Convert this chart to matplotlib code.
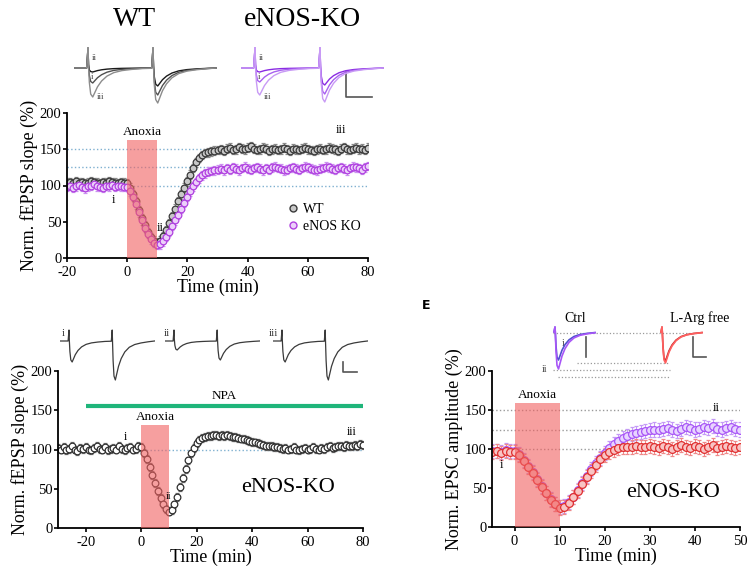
import numpy as np
import matplotlib
matplotlib.use('Agg')
import matplotlib.pyplot as plt
from matplotlib.patches import Rectangle
from matplotlib.lines import Line2D

plt.rcParams['font.family'] = ['Liberation Serif', 'DejaVu Serif']
plt.rcParams['axes.unicode_minus'] = False

# ---------------- data ----------------
# Panel A (top): WT vs eNOS KO, fEPSP slope, 1-min bins from -20 to 80 min
tA = np.arange(-20, 81)
wtA = [104, 105, 103, 106, 104, 105, 103, 104, 106, 105, 104, 103, 105, 104, 106, 105, 104, 103, 105, 104,
       103, 97, 88, 78, 66, 55, 45, 36, 29, 24, 21,
       24, 30, 38, 48, 58, 68, 78, 88, 97, 106,
       115, 124, 132, 138, 142, 145, 146, 147, 148, 149,
       150, 148, 151, 152, 149, 150, 153, 151, 150, 152, 154, 151, 149, 150, 152, 151, 148, 150, 151, 149,
       150, 152, 150, 148, 151, 150, 149, 151, 152, 150, 149, 148, 150, 151, 149, 150, 152, 151, 150, 148,
       151, 153, 150, 149, 151, 152, 150, 151, 149, 152]
koA = [98, 100, 97, 99, 101, 98, 96, 99, 100, 102, 99, 98, 97, 100, 99, 101, 98, 100, 99, 98,
       98, 92, 84, 74, 63, 52, 42, 33, 26, 21, 18,
       19, 23, 29, 36, 44, 52, 60, 68, 76, 84,
       92, 99, 105, 110, 114, 117, 119, 120, 121, 122,
       123, 121, 124, 122, 125, 123, 121, 124, 126, 123, 122, 124, 125, 123, 121, 124, 122, 125, 126, 124,
       123, 121, 122, 124, 125, 123, 122, 124, 126, 125, 123, 122, 121, 123, 124, 126, 125, 123, 122, 124,
       125, 123, 121, 124, 126, 125, 124, 122, 125, 127]
errA = 6

# Panel B (bottom left): eNOS-KO + NPA, -30 to 80 min
tB = np.arange(-30, 81)
npaB = [102, 100, 103, 99, 101, 104, 100, 98, 102, 101, 103, 100, 99, 102, 104, 101, 100, 103, 99, 101,
        102, 100, 104, 101, 99, 102, 103, 100, 101, 104,
        103, 96, 88, 78, 68, 57, 47, 38, 30, 24, 21,
        23, 30, 40, 52, 64, 75, 86, 95, 102, 108,
        112, 115, 116, 117, 117, 118, 118, 117, 118, 117,
        118, 117, 116, 116, 115, 114, 113, 112, 111, 110,
        109, 108, 107, 106, 105, 105, 104, 103, 103, 102,
        101, 102, 100, 101, 103, 100, 99, 101, 102, 100, 101, 103, 101, 100, 102, 101, 103, 104, 102, 103,
        105, 104, 103, 106, 105, 104, 106, 105, 107, 106]
errB = 5
npa_start, npa_end, npa_level = -20, 80, 155

# Panel E (bottom right): EPSC amplitude, Ctrl vs L-Arg free, -5 to 50 min
tE = np.arange(-5, 51)
ctrlE = [97, 98, 96, 99, 97,
         97, 93, 86, 78, 70, 61, 52, 44, 36, 30, 26,
         27, 32, 39, 47, 56, 65, 74, 82, 89, 95,
         101, 106, 110, 114, 117, 119, 121, 122, 123, 124,
         125, 124, 126, 127, 125, 123, 126, 128, 127, 125, 126, 128, 127, 129, 126, 125, 127, 128, 126, 125]
argE = [96, 97, 95, 98, 96,
        96, 92, 85, 77, 69, 60, 51, 43, 35, 29, 25,
        26, 31, 38, 46, 55, 64, 72, 80, 87, 92,
        96, 99, 101, 102, 103, 103, 104, 102, 103, 104,
        103, 101, 104, 102, 100, 103, 105, 102, 101, 104, 102, 100, 103, 105, 101, 102, 104, 103, 101, 103]
errE = 9

anoxia = (0, 10)
ref_lines_A = [100, 125, 150]
ref_lines_E = [100, 125, 150]

# example traces: paired-pulse template (time in ms)
tr_t = [0, 9, 9.6, 10, 10.4, 11, 12, 13.5, 15, 17, 20, 24, 29, 35, 42, 50,
        57, 57.6, 58, 58.4, 59, 60, 61.5, 63, 65, 68, 72, 77, 83, 90, 98, 105]
tr_art = [0, 0, 0.6, 1.0, 0.2, 0, 0, 0, 0, 0, 0, 0, 0, 0, 0, 0,
          0, 0.6, 1.0, 0.2, 0, 0, 0, 0, 0, 0, 0, 0, 0, 0, 0, 0]
tr_r1 = [0, 0, 0, 0, -0.1, -0.5, -0.9, -1.0, -0.85, -0.65, -0.45, -0.28, -0.16, -0.09, -0.05, -0.02,
         -0.01, 0, 0, 0, 0, 0, 0, 0, 0, 0, 0, 0, 0, 0, 0, 0]
tr_r2 = [0, 0, 0, 0, 0, 0, 0, 0, 0, 0, 0, 0, 0, 0, 0, 0,
         0, 0, 0, -0.1, -0.5, -0.9, -1.0, -0.85, -0.65, -0.45, -0.28, -0.16, -0.09, -0.05, -0.02, 0]

# (pulse1 amplitude, pulse2 amplitude, artifact)
A_wt_traces = {'ii': (0.2, 0.9, 1.0), 'i': (0.75, 1.35, 1.0), 'iii': (1.45, 1.75, 1.0)}
A_ko_traces = {'ii': (0.2, 0.85, 1.0), 'i': (0.7, 1.3, 1.0), 'iii': (1.35, 1.7, 1.0)}
B_traces = {'i': (1.05, 1.95, 0.55), 'ii': (0.45, 0.95, 0.55), 'iii': (1.05, 1.95, 0.55)}
E_ctrl = {'i': 1.4, 'ii': 1.85}
E_arg = {'i': 1.45, 'ii': 1.55}


def trace(a1, a2, h):
    return np.array(tr_art) * h + np.array(tr_r1) * a1 + np.array(tr_r2) * a2


# ---------------- figure ----------------
W, H = 750, 568
fig = plt.figure(figsize=(W / 100, H / 100), dpi=100)


def px_axes(l, t, r, b, **kw):
    return fig.add_axes([l / W, 1 - b / H, (r - l) / W, (b - t) / H], **kw)


deco = px_axes(0, 0, W, H)
deco.set_xlim(0, W)
deco.set_ylim(H, 0)
deco.axis('off')

ANOX_COLOR = '#f06060'


def style(ax, xlim, xticks, ylabel):
    ax.set_xlim(*xlim)
    ax.set_ylim(0, 200)
    ax.set_yticks([0, 50, 100, 150, 200])
    ax.set_xticks(xticks)
    for s in ['top', 'right']:
        ax.spines[s].set_visible(False)
    for s in ['left', 'bottom']:
        ax.spines[s].set_linewidth(1.3)
    ax.tick_params(direction='out', length=3, width=1.2, labelsize=10.5, pad=1)
    ax.tick_params(axis='x', pad=2.5)
    ax.set_xlabel('Time (min)', fontsize=13, labelpad=0)
    ax.set_ylabel(ylabel, fontsize=13, labelpad=1)
    ax.patch.set_alpha(0)


def series(ax, t, y, err, edge, face, ecol, ms=4.8):
    return ax.errorbar(t, y, yerr=err, fmt='o', ms=ms, mfc=face, mec=edge, mew=0.9,
                       ecolor=ecol, elinewidth=0.8, capsize=1.2, capthick=0.8, zorder=2)


def anoxia_box(ax, top):
    ax.add_patch(Rectangle((anoxia[0], 0), anoxia[1] - anoxia[0], top, facecolor=ANOX_COLOR,
                           alpha=0.6, edgecolor='none', zorder=3))
    ax.text((anoxia[0] + anoxia[1]) / 2, top + 3, 'Anoxia', ha='center', va='bottom', fontsize=9.5)


# ---------- Panel A ----------
axA = px_axes(67, 113, 368, 258)
for yv in ref_lines_A:
    axA.axhline(yv, color='#7fb0d0', ls=':', lw=1.0, zorder=1)
series(axA, tA, wtA, errA, '#3a3a3a', '#c8c8c8', '#8a8a8a')
series(axA, tA, koA, errA, '#b040e0', '#ecd0fa', '#cc90f0')
anoxia_box(axA, 163)
style(axA, (-20, 80), [-20, 0, 20, 40, 60, 80], 'Norm. fEPSP slope (%)')
axA.text(-4.7, 80, 'i', fontsize=9, ha='center', va='center')
axA.text(11, 41, 'ii', fontsize=9, ha='center', va='center')
axA.text(71, 176, 'iii', fontsize=9, ha='center', va='center')
axA.legend(handles=[Line2D([], [], marker='o', ls='none', ms=5, mfc='#c8c8c8', mec='#3a3a3a'),
                    Line2D([], [], marker='o', ls='none', ms=5, mfc='#ecd0fa', mec='#b040e0')],
           labels=['WT', 'eNOS KO'], loc='upper left', bbox_to_anchor=(0.71, 0.42),
           frameon=False, fontsize=10, handletextpad=0.2, labelspacing=0.3, handlelength=1.0,
           borderaxespad=0)

fig.text(135 / W, 1 - 20 / H, 'WT', fontsize=20, ha='center', va='center')
fig.text(302 / W, 1 - 20 / H, 'eNOS-KO', fontsize=20, ha='center', va='center')


def inset(l, t, r, b, xlim, ylim):
    ax = px_axes(l, t, r, b)
    ax.set_xlim(*xlim)
    ax.set_ylim(*ylim)
    ax.axis('off')
    return ax


ppuA = 65 / 48
insWT = inset(88 - 10 * ppuA, 45, 88 + 95 * ppuA, 108, (0, 105), (-2.0, 1.15))
wt_cols = {'ii': '#1a1a1a', 'i': '#505050', 'iii': '#8c8c8c'}
for k, (a1, a2, h) in A_wt_traces.items():
    insWT.plot(tr_t, trace(a1, a2, h), color=wt_cols[k], lw=1.0)
insKO = inset(255 - 10 * ppuA, 45, 255 + 95 * ppuA, 108, (0, 105), (-2.0, 1.15))
ko_cols = {'ii': '#8a2be2', 'i': '#a860f0', 'iii': '#c89af5'}
for k, (a1, a2, h) in A_ko_traces.items():
    insKO.plot(tr_t, trace(a1, a2, h), color=ko_cols[k], lw=1.0)
for x, y, s in [(92, 58, 'ii'), (91, 77, 'i'), (97, 97, 'iii'), (259, 58, 'ii'), (258, 77, 'i'), (264, 97, 'iii')]:
    deco.text(x, y, s, fontsize=6.5, ha='left', va='center', color='#444')
deco.plot([346, 346, 372], [72, 97, 97], color='#555', lw=1.2)

# ---------- Panel B ----------
axB = px_axes(58, 371, 363, 528)
axB.axhline(100, color='#7fb0d0', ls=':', lw=1.0, zorder=1)
series(axB, tB, npaB, errB, '#2f2f2f', 'white', '#777777')
anoxia_box(axB, 131)
axB.plot([npa_start, npa_end], [npa_level, npa_level], color='#1fb57a', lw=3, solid_capstyle='butt')
axB.text(30, 160, 'NPA', fontsize=9.5, ha='center', va='bottom')
style(axB, (-30, 80), [-20, 0, 20, 40, 60, 80], 'Norm. fEPSP slope (%)')
axB.text(-5.8, 116, 'i', fontsize=8.5, ha='center', va='center')
axB.text(9.8, 40, 'ii', fontsize=7, ha='center', va='center')
axB.text(76, 122, 'iii', fontsize=8.5, ha='center', va='center')
axB.text(53, 51, 'eNOS-KO', fontsize=16, ha='center', va='center')

ppuB = 0.9
for art_px, key in [(69, 'i'), (174, 'ii'), (282, 'iii')]:
    ins = inset(art_px - 10 * ppuB, 325, art_px + 95 * ppuB, 385, (0, 105), (-2.2, 0.8))
    a1, a2, h = B_traces[key]
    ins.plot(tr_t, trace(a1, a2, h), color='#3a3a3a', lw=0.9)
    deco.text(art_px - 4, 333, key, fontsize=8, ha='right', va='center', color='#333')
deco.plot([343, 343, 357], [362, 372, 372], color='#555', lw=1.2)

# ---------- Panel E ----------
axE = px_axes(492, 371, 740, 527)
for yv in ref_lines_E:
    axE.axhline(yv, color='#9a9a9a', ls=':', lw=1.0, zorder=1)
series(axE, tE, ctrlE, errE, '#a855f7', '#e8d4ff', '#c59af7', ms=5.6)
series(axE, tE, argE, errE, '#e03030', '#f8c4c4', '#ef8a8a', ms=5.6)
anoxia_box(axE, 159)
style(axE, (-5, 50), [0, 10, 20, 30, 40, 50], 'Norm. EPSC amplitude (%)')
axE.text(-2.8, 79, 'i', fontsize=9, ha='center', va='center')
axE.text(44.8, 152, 'ii', fontsize=9, ha='center', va='center')
axE.text(35.2, 44, 'eNOS-KO', fontsize=16, ha='center', va='center')
fig.text(422 / W, 1 - 306 / H, 'E', fontsize=9, fontweight='bold', family='DejaVu Sans',
         ha='left', va='center')

# EPSC insets
for (x0, x1, y) in [(553, 697, 333), (577, 668, 363), (553, 670, 370), (558, 670, 377)]:
    deco.plot([x0, x1], [y, y], color='#9a9a9a', ls=':', lw=0.9)
insE = inset(540, 325, 720, 385, (0, 180), (-2.65, 0.35))
for k, a in E_ctrl.items():
    insE.plot(np.array(tr_t[1:16]) + 5, trace(a, 0, 0.25)[1:16],
              color={'i': '#5050d0', 'ii': '#a855f7'}[k], lw=1.2)
for k, a in E_arg.items():
    insE.plot(np.array(tr_t[1:16]) + 112, trace(a, 0, 0.25)[1:16],
              color={'i': '#c02828', 'ii': '#ff6060'}[k], lw=1.2)
deco.text(563, 343, 'i', fontsize=7, ha='center', va='center', color='#444')
deco.text(545, 369, 'ii', fontsize=7, ha='center', va='center', color='#444')
deco.plot([586, 586], [337, 357], color='#555', lw=1.2)
deco.plot([693, 693, 706], [337, 357, 357], color='#555', lw=1.2)
fig.text(575 / W, 1 - 318 / H, 'Ctrl', fontsize=10, ha='center', va='center')
fig.text(700 / W, 1 - 318 / H, 'L-Arg free', fontsize=10, ha='center', va='center')

fig.savefig('out.png', dpi=100)
